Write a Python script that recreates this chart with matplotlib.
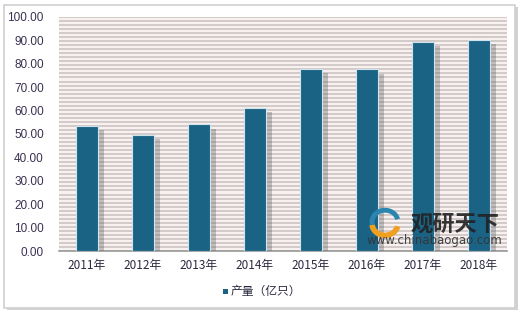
import matplotlib.pyplot as plt
import matplotlib.patheffects as pe
from matplotlib.patches import Rectangle, Arc
import numpy as np

plt.rcParams['font.family'] = ['Noto Sans CJK SC', 'DejaVu Sans']

## dados
years = ['2011年', '2012年', '2013年', '2014年', '2015年', '2016年', '2017年', '2018年']
output = [53.4, 49.7, 54.1, 61.2, 77.8, 77.6, 89.4, 90.2]
legend_label = '产量（亿只）'
yticks = np.arange(0, 101, 10)

fig = plt.figure(figsize=(5.2, 3.14), dpi=100)
# moldura externa
fig.patches.append(Rectangle((0.008, 0.02), 0.982, 0.965, transform=fig.transFigure,
                             facecolor='white', edgecolor='#d0d0d0', lw=1.2, zorder=-5,
                             path_effects=[pe.SimplePatchShadow(offset=(2, -2), alpha=0.25), pe.Normal()]))

ax = fig.add_axes([0.1135, 0.2006, 0.8615, 0.7454])
ax.set_facecolor('#f8f1f0')
for yy in np.arange(0, 100, 100 / 58):
    ax.axhline(yy, color='#d0c6c6', lw=1.3, zorder=0)

x = np.arange(len(years))
bars = ax.bar(x, output, width=0.41, color='#1b6385', edgecolor='#cfe3ec', lw=0.8, zorder=3,
              path_effects=[pe.SimplePatchShadow(offset=(4, -3), shadow_rgbFace='#606060', alpha=0.35),
                            pe.Normal()])

ax.set_xlim(-0.5, len(years) - 0.5)
ax.set_ylim(0, 100)
ax.set_yticks(yticks)
ax.set_yticklabels(['%.2f' % v for v in yticks], fontsize=8.5, color='#3a3050', family='Liberation Sans')
ax.set_xticks(x)
ax.set_xticklabels(years, fontsize=8.5, color='#2a2a40')
ax.tick_params(axis='y', length=0, pad=11)
ax.tick_params(axis='x', length=0, pad=6)
for s in ['top', 'right', 'left']:
    ax.spines[s].set_visible(False)
ax.spines['bottom'].set_color('#9a9a9a')
ax.spines['bottom'].set_linewidth(1.2)

# legenda
fig.patches.append(Rectangle((0.428, 0.063), 0.011, 0.018, transform=fig.transFigure,
                             facecolor='#1b6385', edgecolor='none'))
fig.text(0.444, 0.072, legend_label, fontsize=8.5, color='#2a2a40', va='center')

# marca d'agua (logo simplificado + texto)
lx, ly = 385 / 520, 1 - 222 / 314
fig.patches.append(Arc((lx, ly), 0.05, 0.075, theta1=20, theta2=200, transform=fig.transFigure,
                       color='#2a86b0', lw=3.5, zorder=10))
fig.patches.append(Arc((lx, ly - 0.005), 0.05, 0.075, theta1=190, theta2=340, transform=fig.transFigure,
                       color='#f0a020', lw=4, zorder=10))
fig.text(455 / 520, 0.285, '观研天下', fontsize=16, color='#222222', ha='center', va='center',
         weight='bold', alpha=0.9, zorder=10)
fig.text(0.836, 0.2325, 'www.chinabaogao.com', fontsize=8.5, color='#333333', ha='center',
         va='center', family='DejaVu Sans', alpha=0.9, zorder=10)

plt.savefig('out.png', dpi=100)
